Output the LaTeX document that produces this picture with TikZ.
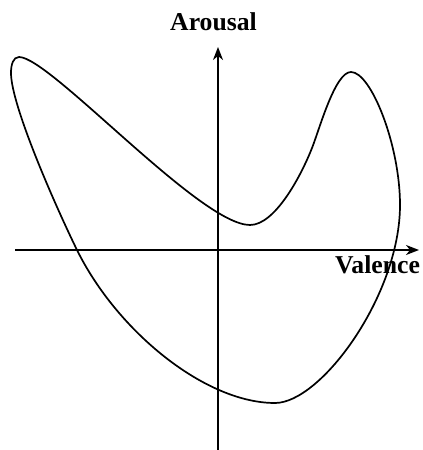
\documentclass[tikz,border=0pt]{standalone}
\usepackage{fontspec}
\setmainfont{Liberation Serif}
\usetikzlibrary{arrows.meta}
\begin{document}
\begin{tikzpicture}[x=1bp,y=-1bp,
  axisline/.style={line width=1.7bp,-{Stealth[length=13bp,width=10bp,inset=4bp]}},
  curveline/.style={line width=1.7bp,line join=round},
  lbl/.style={inner sep=0pt,anchor=base west,font=\fontsize{25.7bp}{30bp}\selectfont\bfseries}]
\useasboundingbox (0,0) rectangle (422,450);
\coordinate (xs) at (15,250);
\coordinate (xe) at (419,250);
\coordinate (ys) at (218,451);
\coordinate (ye) at (218,47);
\draw[axisline] (xs) -- (xe);
\draw[axisline] (ys) -- (ye);
\node[lbl] (arousal) at (170,31) {Arousal};
\node[lbl] (valence) at (335,273) {Valence};
\draw[curveline] (19,57) .. controls (50,57) and (200,225) .. (250,225)
 .. controls (275,225) and (301,176) .. (312,148)
 .. controls (319.4,129.4) and (335,72) .. (351,72)
 .. controls (371,72) and (400,145) .. (400,205)
 .. controls (400,295) and (321,403) .. (275,403)
 .. controls (205,403) and (117,331) .. (77,250)
 .. controls (55,205) and (11,105) .. (11,73)
 .. controls (11,65) and (13,57) .. (19,57) -- cycle;
\end{tikzpicture}
\end{document}
